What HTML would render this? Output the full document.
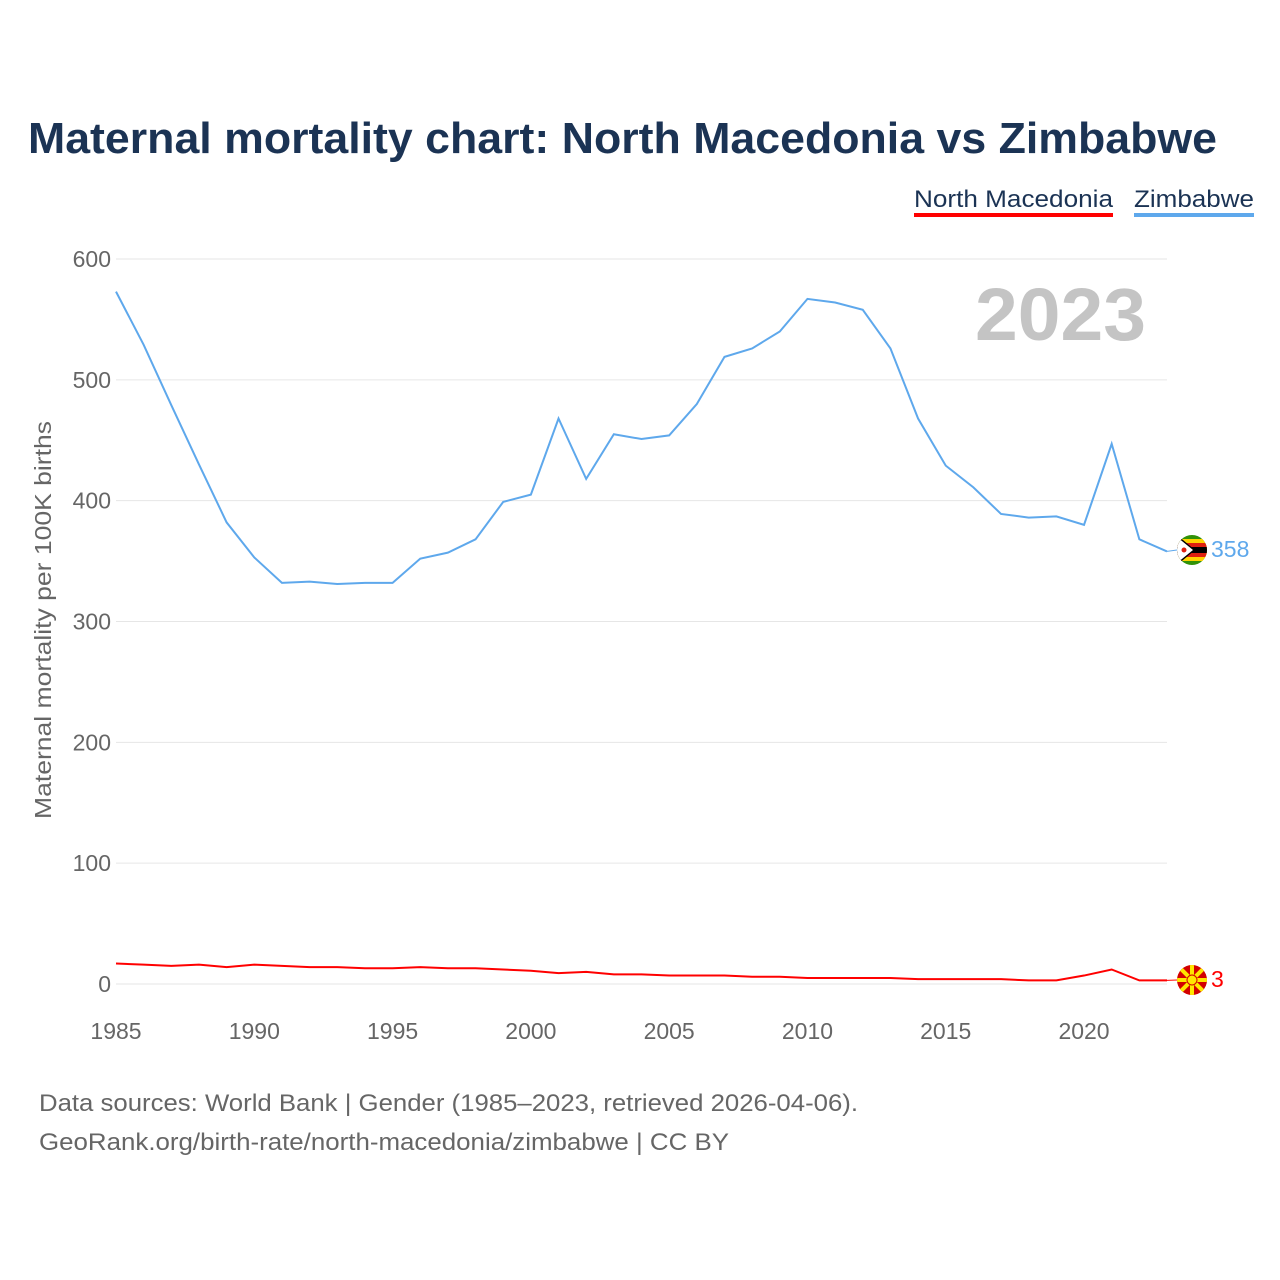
<!DOCTYPE html>
<html><head><meta charset="utf-8"><style>
body{margin:0;background:#fff;}
svg{display:block;font-family:"Liberation Sans",sans-serif;}
</style></head><body>
<svg id="chart" width="1280" height="1280" viewBox="0 0 1280 1280">
<text x="28" y="153" font-size="44" font-weight="bold" fill="#1b3354" textLength="1189" lengthAdjust="spacingAndGlyphs">Maternal mortality chart: North Macedonia vs Zimbabwe</text>
<g>
<g><text x="914" y="207" font-size="24" fill="#1b3354" textLength="199" lengthAdjust="spacingAndGlyphs">North Macedonia</text><rect x="914" y="213" width="199" height="4" fill="#ff0000"/></g>
<g><text x="1134" y="207" font-size="24" fill="#1b3354" textLength="120" lengthAdjust="spacingAndGlyphs">Zimbabwe</text><rect x="1134" y="213" width="120" height="4" fill="#5ea8ec"/></g>
</g>
<text x="975" y="340" font-size="74" font-weight="bold" fill="#c4c4c4" textLength="171" lengthAdjust="spacingAndGlyphs">2023</text>
<g id="grid"></g>
<g id="yticks"></g>
<g id="xticks"></g>
<text transform="translate(51,620) rotate(-90)" font-size="23" fill="#666" text-anchor="middle" textLength="398" lengthAdjust="spacingAndGlyphs">Maternal mortality per 100K births</text>
<g id="series"></g>
<g>
<clipPath id="c1"><circle cx="1192" cy="550" r="15"/></clipPath>
<g clip-path="url(#c1)"><rect x="1177" y="535" width="30" height="30" fill="#319208"/><rect x="1177" y="539" width="30" height="22" fill="#ffd200"/><rect x="1177" y="543" width="30" height="14" fill="#de2010"/><rect x="1177" y="547" width="30" height="6" fill="#000"/><polygon points="1177,535 1195,550 1177,565" fill="#000"/><polygon points="1177,537 1193,550 1177,563" fill="#fff"/><circle cx="1184" cy="550" r="2.5" fill="#de2010"/></g>
</g>
<g>
<clipPath id="c2"><circle cx="1192" cy="980" r="15"/></clipPath>
<g clip-path="url(#c2)"><rect x="1177" y="965" width="30" height="30" fill="#d20000"/>
<g stroke="#ffe600" stroke-width="4"><line x1="1177" y1="965" x2="1207" y2="995"/><line x1="1207" y1="965" x2="1177" y2="995"/><line x1="1192" y1="963" x2="1192" y2="997"/><line x1="1175" y1="980" x2="1209" y2="980"/></g>
<circle cx="1192" cy="980" r="5" fill="#ffe600" stroke="#d20000" stroke-width="1"/></g>
</g>
<text x="1211" y="557" font-size="23" fill="#5ea8ec">358</text>
<text x="1211" y="987" font-size="23" fill="#ff0000">3</text>
<text x="39" y="1111" font-size="24" fill="#666" textLength="819" lengthAdjust="spacingAndGlyphs">Data sources: World Bank | Gender (1985–2023, retrieved 2026-04-06).</text>
<text x="39" y="1150" font-size="24" fill="#666" textLength="690" lengthAdjust="spacingAndGlyphs">GeoRank.org/birth-rate/north-macedonia/zimbabwe | CC BY</text>
</svg>
<script>
const years = [1985,1986,1987,1988,1989,1990,1991,1992,1993,1994,1995,1996,1997,1998,1999,2000,2001,2002,2003,2004,2005,2006,2007,2008,2009,2010,2011,2012,2013,2014,2015,2016,2017,2018,2019,2020,2021,2022,2023];
const zimbabwe = [573,529,479,430,382,353,332,333,331,332,332,352,357,368,399,405,468,418,455,451,454,480,519,526,540,567,564,558,526,468,429,411,389,386,387,380,447,368,358];
const northMacedonia = [17,16,15,16,14,16,15,14,14,13,13,14,13,13,12,11,9,10,8,8,7,7,7,6,6,5,5,5,5,4,4,4,4,3,3,7,12,3,3];
const yTicks = [0,100,200,300,400,500,600];
const xTicks = [1985,1990,1995,2000,2005,2010,2015,2020];
const NS="http://www.w3.org/2000/svg";
const X = y => 116 + (y-1985)*(1167-116)/(2023-1985);
const Y = v => 984 - v*(984-259)/600;
const grid=document.getElementById('grid'), yt=document.getElementById('yticks'), xt=document.getElementById('xticks'), ser=document.getElementById('series');
yTicks.forEach(v=>{
  const l=document.createElementNS(NS,'line');
  l.setAttribute('x1',116);l.setAttribute('x2',1167);l.setAttribute('y1',Y(v));l.setAttribute('y2',Y(v));
  l.setAttribute('stroke','#e6e6e6');l.setAttribute('stroke-width','1');
  
  
  grid.appendChild(l);
  const t=document.createElementNS(NS,'text');
  t.setAttribute('x',111);t.setAttribute('y',Y(v)+8);t.setAttribute('text-anchor','end');
  t.setAttribute('font-size','23');t.setAttribute('fill','#666');t.textContent=v;
  
  
  yt.appendChild(t);
});
xTicks.forEach(v=>{
  const t=document.createElementNS(NS,'text');
  t.setAttribute('x',X(v));t.setAttribute('y',1039);t.setAttribute('text-anchor','middle');
  t.setAttribute('font-size','23');t.setAttribute('fill','#666');t.textContent=v;
  
  
  xt.appendChild(t);
});
function line(data,color,name,endY){
  const p=document.createElementNS(NS,'polyline');
  p.setAttribute('points',data.map((v,i)=>X(years[i])+','+Y(v)).join(' '));
  p.setAttribute('fill','none');p.setAttribute('stroke',color);p.setAttribute('stroke-width','2');
  
  
  ser.appendChild(p);
  const c=document.createElementNS(NS,'line');
  const last=data[data.length-1];
  c.setAttribute('x1',X(years[years.length-1]));c.setAttribute('y1',Y(last));c.setAttribute('x2',1177);c.setAttribute('y2',endY);
  c.setAttribute('stroke',color);c.setAttribute('stroke-width','1');
  
  
  ser.appendChild(c);
}
line(zimbabwe,'#5ea8ec','zimbabwe-line',550);
line(northMacedonia,'#ff0000','north-macedonia-line',980);
</script>
</body></html>
